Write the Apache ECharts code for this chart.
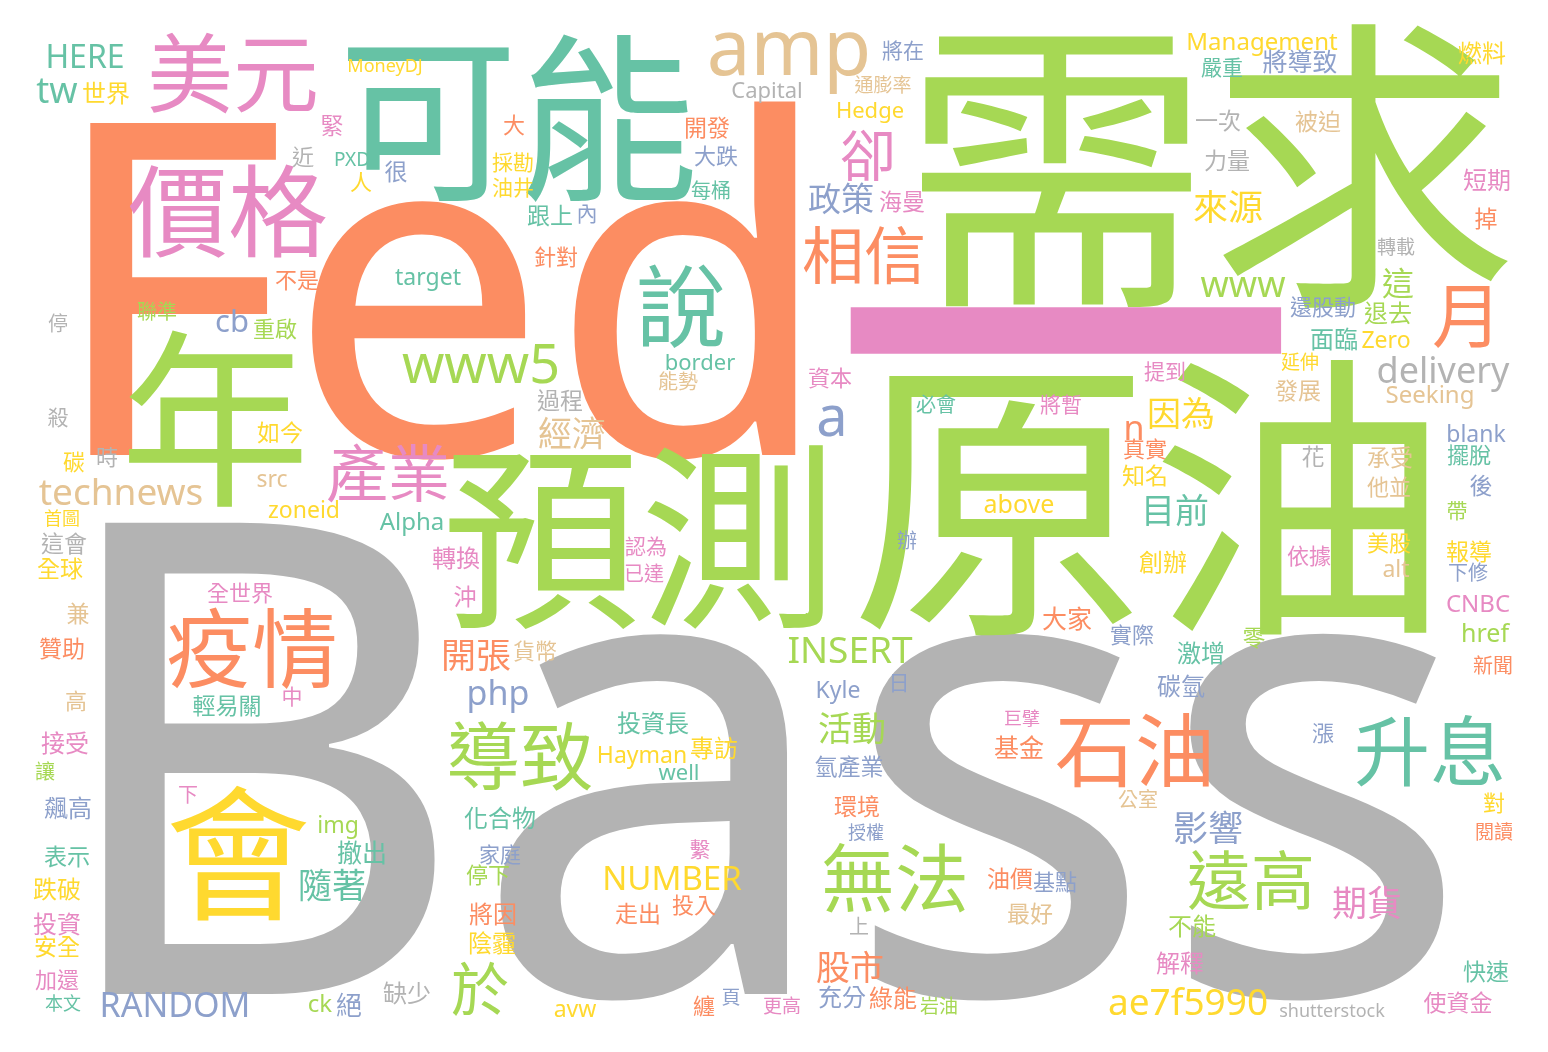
<!DOCTYPE html>
<html><head><meta charset="utf-8">
<script src="https://cdn.jsdelivr.net/npm/echarts@6/dist/echarts.min.js"></script>
<style>html,body{margin:0;padding:0;background:#fff}#c{width:1548px;height:1052px}</style>
</head><body><div id="c"></div>
<script>
// Word list (order matters: all arrays aligned)
const words = ["Fed","Bass","需求","原油","一","預測","可能","年","價格","美元",
"amp","HERE","tw","世界","MoneyDJ","緊","近","PXD","很","人",
"不是","target","停","聯準","cb","重啟","Capital","將在","通膨率","Hedge",
"大","開發","採勘","油井","大跌","每桶","跟上","內","針對","卻",
"政策","海曼","相信","說","border","Management","嚴重","將導致","燃料","一次",
"被迫","力量","短期","來源","掉","轉載","www","這","月","還股動",
"退去","面臨","Zero","殺","如今","時","碳","產業","src","technews",
"zoneid","Alpha","首圖","這會","全球","轉換","全世界","沖","兼","疫情",
"贊助","開張","貨幣","php","導致","投資長","專訪","Hayman","well","化合物",
"www5","能勢","過程","經濟","資本","a","必會","認為","已達","辦",
"above","INSERT","Kyle","日","提到","將暫","延伸","delivery","發展","Seeking",
"因為","n","真實","知名","目前","創辦","花","承受","他並","依據",
"美股","alt","blank","擺脫","後","帶","報導","下修","CNBC","href",
"新聞","大家","實際","零","激增","碳氫","高","輕易關","中","接受",
"讓","飆高","下","會","img","撤出","隨著","表示","跌破","投資",
"安全","加還","本文","RANDOM","ck","絕","缺少","於","家庭","停下",
"將因","陰霾","活動","氫產業","環境","授權","繫","NUMBER","走出","投入",
"無法","上","股市","充分","綠能","岩油","更高","頁","纏","avw",
"巨擘","基金","油價","基點","最好","石油","漲","升息","公室","對",
"閱讀","影響","遠高","期貨","不能","解釋","快速","ae7f5990","shutterstock","使資金"];

// Word weight (rendered font size, px)
const weights = [465,660,308,300,460,198,180,190,100,86,
78,32,36,24,18,23,22,19,23,22,
22,23,20,20,31,22,22,21,19,22,
22,23,21,21,22,20,23,21,22,56,
33,23,62,90,22,24,21,25,24,23,
23,23,24,35,23,19,36,32,70,22,
24,24,23,21,23,22,22,62,23,37,
23,24,18,23,23,24,22,23,23,86,
23,35,22,34,74,24,24,23,22,24,
54,20,23,34,22,56,20,21,20,20,
25,37,23,21,21,21,19,36,23,24,
34,34,22,23,34,24,23,23,22,22,
22,23,23,22,23,21,23,20,24,25,
20,25,22,23,24,24,22,23,21,24,
20,24,20,145,23,25,34,23,24,24,
23,22,18,34,24,26,24,58,21,22,
24,24,34,23,23,18,21,33,23,22,
74,20,34,24,24,19,19,19,22,23,
18,25,23,22,23,80,22,76,20,22,
19,35,64,35,24,24,23,37,18,23];

// Layout position of each word (cloud coordinates: centre of the word's ink)
const posX = [440,757,1210,1150,1065,640,518,215,228,233,
789,85,57,106,385,332,303,352,396,361,
297,428,58,157,232,275,767,903,883,870,
514,707,513,513,716,711,550,587,556,868,
841,902,864,681,700,1262,1222,1300,1482,1218,
1318,1227,1487,1228,1486,1396,1243,1398,1467,1323,
1388,1334,1386,58,280,107,74,388,272,121,
304,412,62,64,60,456,240,465,78,252,
62,476,535,498,520,653,714,642,679,500,
481,678,560,572,830,832,936,646,644,907,
1019,850,838,899,1165,1061,1300,1443,1298,1430,
1181,1134,1145,1145,1175,1163,1313,1390,1389,1309,
1389,1396,1476,1469,1481,1457,1469,1468,1478,1485,
1493,1067,1132,1254,1201,1181,76,227,292,65,
45,68,188,238,338,362,332,67,57,57,
57,57,63,175,320,349,407,480,500,488,
493,492,852,849,857,866,700,672,638,694,
895,859,850,842,893,939,782,731,704,575,
1022,1019,1010,1055,1030,1135,1323,1430,1138,1494,
1494,1208,1251,1367,1192,1180,1486,1188,1332,1458];

const posY = [276,740,170,502,342,540,120,422,213,75,
45,56,89,93,65,126,157,159,172,182,
280,276,324,312,320,329,90,50,85,110,
125,128,162,187,156,191,216,213,257,156,
199,202,256,307,362,41,67,62,53,121,
122,161,180,207,219,247,283,283,316,307,
313,339,339,417,433,457,462,474,478,491,
509,521,518,544,569,558,593,597,614,650,
649,655,651,692,757,723,748,754,772,818,
362,382,401,434,378,414,405,546,574,541,
503,649,689,682,371,404,362,369,391,394,
414,427,449,476,511,562,457,458,487,556,
543,568,433,455,486,510,552,573,603,632,
666,619,635,638,653,686,701,706,696,743,
772,808,795,856,824,853,886,857,889,924,
947,980,1003,1004,1003,1006,993,990,854,875,
914,943,729,767,807,832,849,877,914,905,
879,927,968,997,998,1006,1006,997,1006,1008,
718,748,879,882,914,751,733,752,800,803,
832,828,881,903,926,963,972,1001,1010,1003];

// Set2 palette and colour key per word
const palette = {T:"#66c2a5",O:"#fc8d62",B:"#8da0cb",P:"#e78ac3",G:"#a6d854",Y:"#ffd92f",N:"#e5c494",R:"#b3b3b3"};
const colorKeys = ("ORGGPGTGPP"+"NTTYYPRTBY"+"OTRGBGRBNY"+"OOYYBTTBOP"+"BPOTTYTBYR"+
"NRPYORGGOB"+"GTYRYRYPNN"+"YTYRYPPPNO"+"OONBGTYYTT"+"GNRNPBTPPB"+
"YGBBPPYRNN"+"YOOYTYRNNP"+"YNBTBGYBPG"+"OOBGTBNTPP"+"GBPYGTTTYP"+
"YPTBGBRGBG"+"OYGBOBPYOO"+"GROBOGPBOY"+"POOBNOBTNY"+"OBGPGPTYRP").split("");

const FONT = "'Noto Sans','Noto Sans CJK TC',sans-serif";
const isCJK = w => /[\u3400-\u9fff]/.test(w);
// canvas 'middle' baseline sits lower than the glyph ink centre; compensate per script
const inkShift = w => isCJK(w) ? 0.08 : 0.10;

const chart = echarts.init(document.getElementById('c'), null, {renderer:'canvas'});
const data = words.map((w,i)=>{
  const fs = weights[i], col = palette[colorKeys[i]];
  const lab = {fontSize:fs, color:col, opacity:1};
  if (w === "一") { lab.textBorderColor = col; lab.textBorderWidth = 9; }
  return {
    value:[posX[i], posY[i] + inkShift(w)*fs, fs],
    name:w,
    label:lab
  };
});
chart.setOption({
  backgroundColor:'#ffffff',
  animation:false,
  grid:{left:0,right:0,top:0,bottom:0},
  xAxis:{type:'value',min:0,max:1548,show:false},
  yAxis:{type:'value',min:0,max:1052,inverse:true,show:false},
  series:[{
    type:'scatter',
    symbolSize:0,
    silent:true,
    itemStyle:{opacity:1},
    data:data,
    label:{show:true,position:'inside',align:'center',verticalAlign:'middle',
      fontFamily:FONT, opacity:1,
      formatter:p=>p.name}
  }]
});
</script></body></html>
